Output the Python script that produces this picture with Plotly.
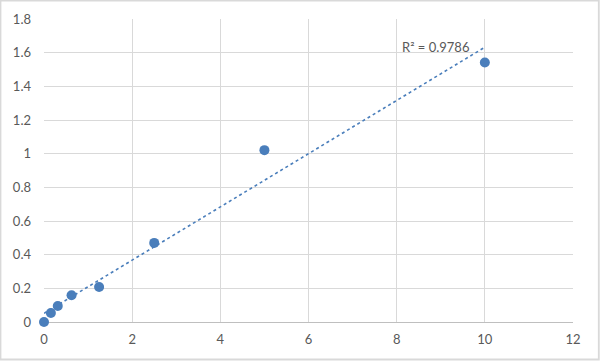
import numpy as np
import plotly.graph_objects as go

concentration = [0, 0.156, 0.3125, 0.625, 1.25, 2.5, 5, 10]
od_values = [0.0, 0.053, 0.095, 0.159, 0.208, 0.47, 1.021, 1.542]
x_ticks = [0, 2, 4, 6, 8, 10, 12]
y_ticks = [0, 0.2, 0.4, 0.6, 0.8, 1, 1.2, 1.4, 1.6, 1.8]
r2_label = "R² = 0.9786"

blue = "#4a7ebb"
grid = "#d9d9d9"
txt = "#595959"

slope, intercept = np.polyfit(concentration, od_values, 1)
tx = [0, max(concentration)]
ty = [intercept + slope * v for v in tx]

W, H = 600, 361
L, R, T, B = 44, 573, 19, 322

fig = go.Figure()
fig.add_trace(go.Scatter(x=tx, y=ty, mode="lines",
                         line=dict(color=blue, width=1.6, dash="dot"),
                         hoverinfo="skip", showlegend=False, cliponaxis=False))
fig.add_trace(go.Scatter(x=concentration, y=od_values, mode="markers",
                         marker=dict(color=blue, size=10),
                         showlegend=False, cliponaxis=False))

def px(xp):
    return (xp - L) / (R - L)

def py(yp):
    return (B - yp) / (B - T)

fig.add_shape(type="rect", xref="paper", yref="paper",
              x0=px(0.5), x1=px(598.8), y0=py(359.5), y1=py(0.5),
              line=dict(color=grid, width=1.8), layer="below")

fig.add_annotation(x=10, y=ty[1], xref="x", yref="y", text=r2_label,
                   showarrow=False, xanchor="right", yanchor="middle",
                   xshift=-14, yshift=0,
                   font=dict(family="Lato", size=13, color=txt))

fig.update_layout(
    width=W, height=H,
    margin=dict(l=L, r=W - R, t=T, b=H - B),
    paper_bgcolor="white", plot_bgcolor="white",
    font=dict(family="Lato", size=13, color=txt),
    xaxis=dict(range=[0, 12], tickvals=x_ticks, showgrid=True, gridcolor=grid,
               gridwidth=1, zeroline=False, showline=False, ticks="",
               ticklabelstandoff=8, fixedrange=True),
    yaxis=dict(range=[0, 1.8], tickvals=y_ticks, showgrid=True, gridcolor=grid,
               gridwidth=1, zeroline=True, zerolinecolor="#bfbfbf", zerolinewidth=1,
               showline=False, ticks="", ticklabelstandoff=12, fixedrange=True),
)
fig.write_html("out.html")
